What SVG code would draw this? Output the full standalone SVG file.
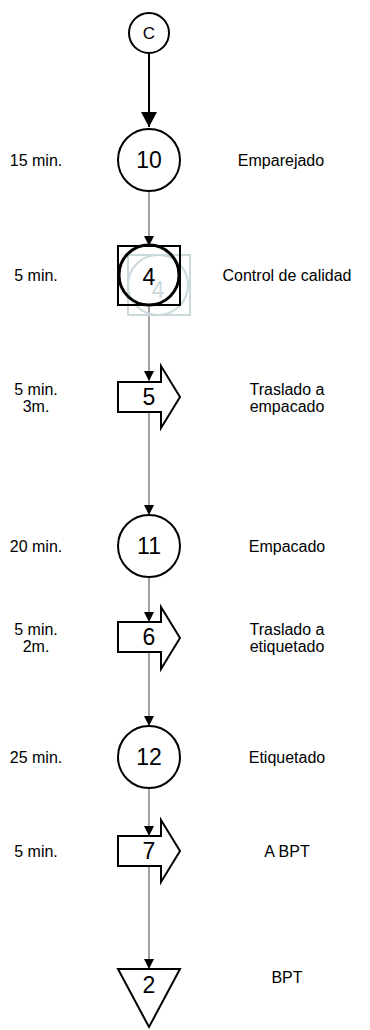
<svg xmlns="http://www.w3.org/2000/svg" width="370" height="1030" viewBox="0 0 370 1030">
  <style>
    text { font-family: "Liberation Sans", Arial, sans-serif; fill: #000; }
    .lbl { font-size: 16px; text-anchor: middle; dominant-baseline: central; }
    .num { font-size: 23px; text-anchor: middle; dominant-baseline: central; }
    .shape { fill: #fff; stroke: #000; stroke-width: 2; }
    .flow { stroke: #808080; stroke-width: 1.5; fill: none; }
    .ghost { fill: none; stroke: #c9d9dc; stroke-width: 2; }
  </style>
  <defs>
    <marker id="headBig" markerUnits="userSpaceOnUse" markerWidth="16" markerHeight="16" refX="15" refY="8" orient="auto">
      <path d="M0,0 L15,8 L0,16 Z" fill="#000"/>
    </marker>
    <marker id="head" markerUnits="userSpaceOnUse" markerWidth="11" markerHeight="11" refX="10" refY="5.5" orient="auto">
      <path d="M0,0.5 L10,5.5 L0,10.5 Z" fill="#000"/>
    </marker>
  </defs>

  <!-- connectors -->
  <g id="connectors">
    <line x1="149" y1="53" x2="149" y2="127" stroke="#000" stroke-width="2" marker-end="url(#headBig)"/>
    <line class="flow" x1="149" y1="191" x2="149" y2="246" marker-end="url(#head)"/>
    <line class="flow" x1="149" y1="305" x2="149" y2="381" marker-end="url(#head)"/>
    <line class="flow" x1="149" y1="412" x2="149" y2="515" marker-end="url(#head)"/>
    <line class="flow" x1="149" y1="577" x2="149" y2="622" marker-end="url(#head)"/>
    <line class="flow" x1="149" y1="652" x2="149" y2="726" marker-end="url(#head)"/>
    <line class="flow" x1="149" y1="788" x2="149" y2="836" marker-end="url(#head)"/>
    <line class="flow" x1="149" y1="866" x2="149" y2="969" marker-end="url(#head)"/>
  </g>

  <!-- connector C -->
  <g id="node-c">
    <circle class="shape" cx="149" cy="33" r="20"/>
    <text class="lbl" x="149" y="33" style="font-size:17px">C</text>
  </g>

  <!-- operation 10 -->
  <g id="node-10">
    <circle class="shape" cx="149" cy="160" r="31"/>
    <text class="num" x="149" y="160">10</text>
    <text class="lbl" x="36" y="160">15 min.</text>
    <text class="lbl" x="281" y="160">Emparejado</text>
  </g>

  <!-- combined operation/inspection 4 -->
  <g id="node-4">
    <rect class="ghost" x="128" y="255" width="62" height="60"/>
    <circle class="ghost" cx="158" cy="285" r="30"/>
    <text class="num" x="158" y="290" style="fill:#c9d9dc">4</text>
    <rect x="118" y="246" width="62" height="59" fill="none" stroke="#000" stroke-width="2"/>
    <circle cx="149" cy="275" r="30" fill="none" stroke="#000" stroke-width="3"/>
    <text class="num" x="149" y="277">4</text>
    <text class="lbl" x="36" y="275">5 min.</text>
    <text class="lbl" x="287" y="275">Control de calidad</text>
  </g>

  <!-- transport 5 -->
  <g id="node-5">
    <polygon class="shape" points="118,382 161,382 161,366 180,397 161,428 161,412 118,412"/>
    <text class="num" x="149" y="397">5</text>
    <text class="lbl" x="36" y="389">5 min.</text>
    <text class="lbl" x="36" y="406">3m.</text>
    <text class="lbl" x="287" y="389">Traslado a</text>
    <text class="lbl" x="287" y="406">empacado</text>
  </g>

  <!-- operation 11 -->
  <g id="node-11">
    <circle class="shape" cx="149" cy="546" r="31"/>
    <text class="num" x="149" y="546">11</text>
    <text class="lbl" x="36" y="546">20 min.</text>
    <text class="lbl" x="287" y="546">Empacado</text>
  </g>

  <!-- transport 6 -->
  <g id="node-6">
    <polygon class="shape" points="118,622 161,622 161,607 180,638 161,669 161,652 118,652"/>
    <text class="num" x="149" y="637">6</text>
    <text class="lbl" x="36" y="629">5 min.</text>
    <text class="lbl" x="36" y="646">2m.</text>
    <text class="lbl" x="287" y="629">Traslado a</text>
    <text class="lbl" x="287" y="646">etiquetado</text>
  </g>

  <!-- operation 12 -->
  <g id="node-12">
    <circle class="shape" cx="149" cy="757" r="31"/>
    <text class="num" x="149" y="757">12</text>
    <text class="lbl" x="36" y="757">25 min.</text>
    <text class="lbl" x="287" y="757">Etiquetado</text>
  </g>

  <!-- transport 7 -->
  <g id="node-7">
    <polygon class="shape" points="118,836 161,836 161,820 180,851 161,882 161,866 118,866"/>
    <text class="num" x="149" y="851">7</text>
    <text class="lbl" x="36" y="851">5 min.</text>
    <text class="lbl" x="287" y="851">A BPT</text>
  </g>

  <!-- storage 2 -->
  <g id="node-2">
    <polygon class="shape" points="118,969 180,969 149,1027"/>
    <text class="num" x="149" y="985">2</text>
    <text class="lbl" x="287" y="977">BPT</text>
  </g>
</svg>
